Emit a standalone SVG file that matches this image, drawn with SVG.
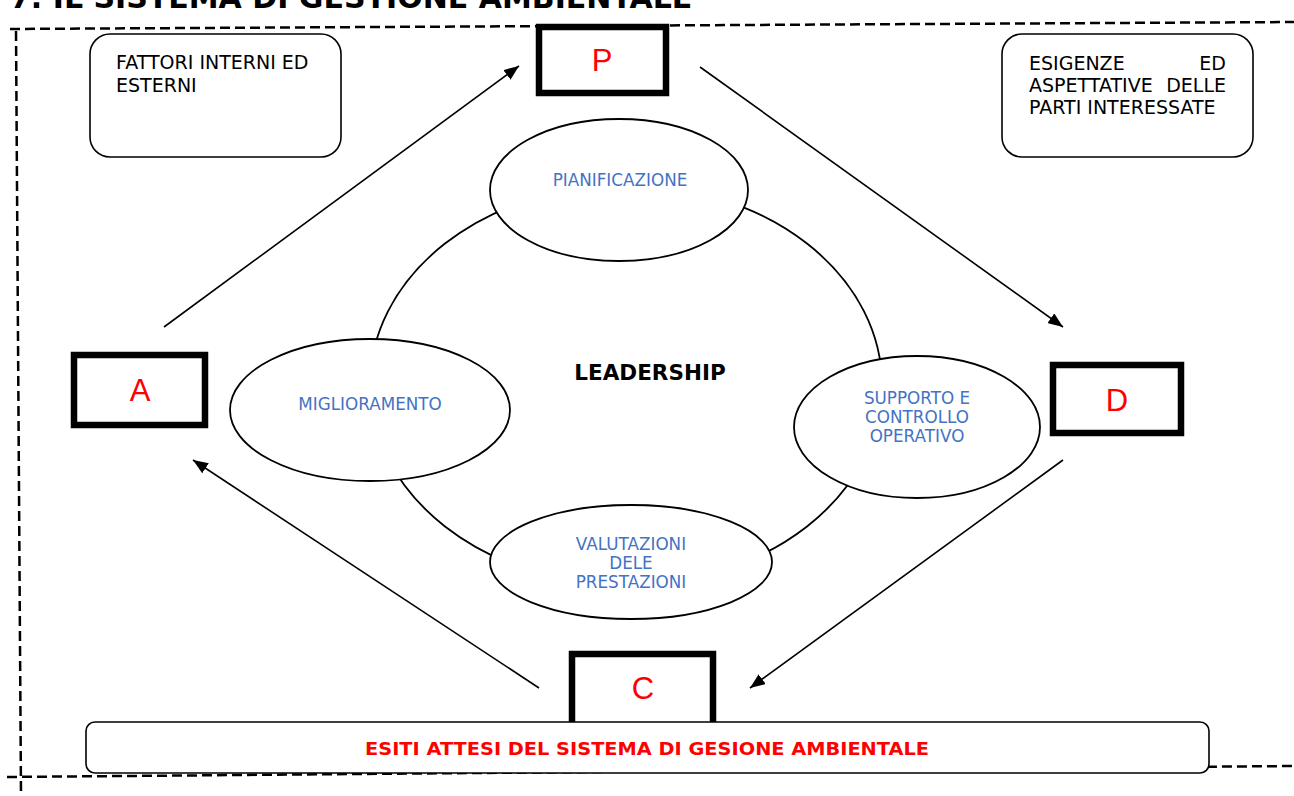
<svg xmlns="http://www.w3.org/2000/svg" width="1294" height="796" viewBox="0 0 1294 796">
<style>
  .dash { fill: none; stroke: #000; stroke-width: 2.5; stroke-dasharray: 10 5; }
  .rbox { fill: #fff; stroke: #000; stroke-width: 1.6; }
  .pdca { fill: #fff; stroke: #000; stroke-width: 6.5; }
  .ell { fill: #fff; stroke: #000; stroke-width: 1.8; }
  .conn { stroke: #000; stroke-width: 1.6; fill: none; }
  .t { font-family: "DejaVu Sans", Verdana, sans-serif; font-size: 19px; fill: #000; }
  .blue { font-family: "DejaVu Sans", Verdana, sans-serif; font-size: 16.8px; fill: #4472C4; text-anchor: middle; }
  .letter { font-family: "Liberation Sans", Arial, sans-serif; font-size: 31px; fill: #FF0000; text-anchor: middle; }
</style>
<defs>
  <marker id="arr" markerUnits="userSpaceOnUse" markerWidth="16" markerHeight="12" refX="15" refY="6" orient="auto">
    <path d="M0,0 L15,6 L0,12 z" fill="#000"/>
  </marker>
</defs>
<rect width="1294" height="796" fill="#fff"/>

<text x="10" y="8" font-family="DejaVu Sans, Verdana, sans-serif" font-weight="bold" font-size="30" fill="#000">7. IL SISTEMA DI GESTIONE AMBIENTALE</text>

<g id="border">
  <line class="dash" x1="10" y1="29" x2="1294" y2="22"/>
  <line class="dash" x1="16" y1="31" x2="21" y2="796"/>
  <line class="dash" x1="7" y1="777" x2="1294" y2="766"/>
</g>

<g id="leadership">
  <ellipse cx="626" cy="385" rx="256" ry="200" fill="none" stroke="#000" stroke-width="1.8"/>
  <text x="650" y="380" font-family="DejaVu Sans, Verdana, sans-serif" font-weight="bold" font-size="21.5" text-anchor="middle" fill="#000">LEADERSHIP</text>
</g>

<g id="connectors">
  <line class="conn" x1="164" y1="327" x2="519" y2="66" marker-end="url(#arr)"/>
  <line class="conn" x1="700" y1="67" x2="1063" y2="327" marker-end="url(#arr)"/>
  <line class="conn" x1="1063" y1="460" x2="750" y2="688" marker-end="url(#arr)"/>
  <line class="conn" x1="539" y1="688" x2="193" y2="460" marker-end="url(#arr)"/>
</g>

<g id="fattori">
  <rect class="rbox" x="90" y="34" width="251" height="123" rx="20"/>
  <text class="t" x="116" y="69">FATTORI INTERNI ED</text>
  <text class="t" x="116" y="92">ESTERNI</text>
</g>

<g id="esigenze">
  <rect class="rbox" x="1002" y="34" width="251" height="123" rx="20"/>
  <text class="t" x="1029" y="70">ESIGENZE</text>
  <text class="t" x="1226" y="70" text-anchor="end">ED</text>
  <text class="t" x="1029" y="92">ASPETTATIVE</text>
  <text class="t" x="1226" y="92" text-anchor="end">DELLE</text>
  <text class="t" x="1029" y="114">PARTI INTERESSATE</text>
</g>

<g id="pianificazione">
  <ellipse class="ell" cx="619" cy="190" rx="129" ry="71"/>
  <text class="blue" x="620" y="186">PIANIFICAZIONE</text>
</g>

<g id="supporto">
  <ellipse class="ell" cx="917" cy="427" rx="123" ry="71"/>
  <text class="blue" x="917" y="404">SUPPORTO E</text>
  <text class="blue" x="917" y="423">CONTROLLO</text>
  <text class="blue" x="917" y="442">OPERATIVO</text>
</g>

<g id="miglioramento">
  <ellipse class="ell" cx="370" cy="410" rx="140" ry="71"/>
  <text class="blue" x="370" y="410">MIGLIORAMENTO</text>
</g>

<g id="valutazioni">
  <ellipse class="ell" cx="631" cy="562" rx="141" ry="57"/>
  <text class="blue" x="631" y="550">VALUTAZIONI</text>
  <text class="blue" x="631" y="569">DELE</text>
  <text class="blue" x="631" y="588">PRESTAZIONI</text>
</g>

<g id="P">
  <rect class="pdca" x="539" y="27" width="127" height="66"/>
  <text class="letter" x="602" y="71">P</text>
</g>

<g id="A">
  <rect class="pdca" x="74" y="355" width="131" height="70"/>
  <text class="letter" x="140" y="401">A</text>
</g>

<g id="D">
  <rect class="pdca" x="1053" y="365" width="128" height="68"/>
  <text class="letter" x="1117" y="411">D</text>
</g>

<g id="C">
  <rect class="pdca" x="572" y="654" width="141" height="72"/>
  <text class="letter" x="643" y="699">C</text>
</g>

<g id="esiti">
  <rect class="rbox" x="86" y="722" width="1123" height="51" rx="9"/>
  <text x="647" y="755" font-family="DejaVu Sans, Verdana, sans-serif" font-weight="bold" font-size="17" text-anchor="middle" fill="#FF0000" textLength="564" lengthAdjust="spacingAndGlyphs">ESITI ATTESI DEL SISTEMA DI GESIONE AMBIENTALE</text>
</g>
</svg>
